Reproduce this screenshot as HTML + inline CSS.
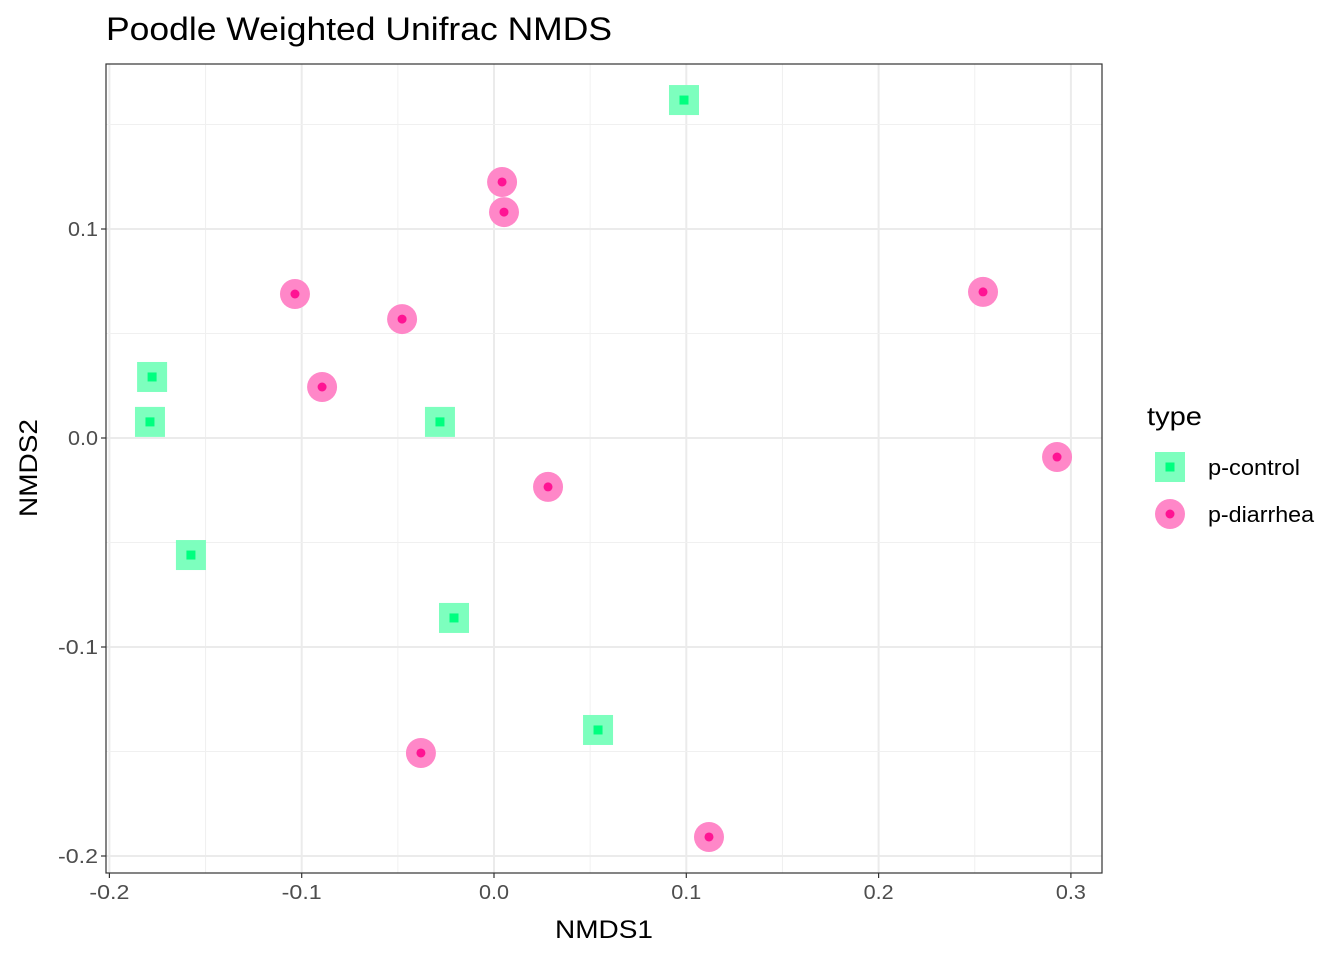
<!DOCTYPE html>
<html><head><meta charset="utf-8"><style>
body{margin:0;background:#fff;}
svg{font-family:"Liberation Sans",sans-serif;}
</style></head><body>
<svg id="c" width="1344" height="960"></svg>
<script>
const xTicks=[-0.2,-0.1,0.0,0.1,0.2,0.3];
const xTickLabels=["-0.2","-0.1","0.0","0.1","0.2","0.3"];
const yTicks=[-0.2,-0.1,0.0,0.1];
const yTickLabels=["-0.2","-0.1","0.0","0.1"];
const controlX=[0.0988,-0.1778,-0.1789,-0.0281,-0.1576,-0.0208,0.0541];
const controlY=[0.1617,0.0292,0.0077,0.0077,-0.056,-0.0861,-0.1397];
const diarrheaX=[0.0042,0.0052,-0.1035,-0.0478,-0.0894,0.2543,0.2928,0.0281,-0.0380,0.1118];
const diarrheaY=[0.1225,0.1081,0.0689,0.0569,0.0244,0.0699,-0.0091,-0.0234,-0.1507,-0.1909];

const NS="http://www.w3.org/2000/svg";
const svg=document.getElementById('c');
const L=106,R=1102,T=64,B=873;
const sx=v=>494+v*1923;
const sy=v=>438-v*2090;
function el(tag,attrs,parent){const e=document.createElementNS(NS,tag);for(const k in attrs)e.setAttribute(k,attrs[k]);(parent||svg).appendChild(e);return e;}
function txt(s,attrs,parent){const e=el('text',attrs,parent);e.textContent=s;return e;}
const tlen=s=>s.charAt(0)==='-'?40:30;

const grid=el('g',{});


for(let i=0;i<xTicks.length;i++){
  const m=xTicks[i]+0.05;
  if(sx(m)<R) el('line',{x1:sx(m),x2:sx(m),y1:T,y2:B,stroke:'#f0f0f0','stroke-width':1},grid);
  el('line',{x1:sx(xTicks[i]),x2:sx(xTicks[i]),y1:T,y2:B,stroke:'#ebebeb','stroke-width':2},grid);
}
for(let i=0;i<yTicks.length;i++){
  const m=yTicks[i]+0.05;
  el('line',{x1:L,x2:R,y1:sy(m),y2:sy(m),stroke:'#f0f0f0','stroke-width':1},grid);
  el('line',{x1:L,x2:R,y1:sy(yTicks[i]),y2:sy(yTicks[i]),stroke:'#ebebeb','stroke-width':2},grid);
}
const frame=el('rect',{x:L,y:T,width:R-L,height:B-T,fill:'none',stroke:'#333','stroke-width':1.2});



for(let i=0;i<xTicks.length;i++){
  const x=sx(xTicks[i]);
  el('line',{x1:x,x2:x,y1:B,y2:B+5,stroke:'#333','stroke-width':1.2});
  const t=txt(xTickLabels[i],{x:x,y:B+26,'text-anchor':'middle','font-size':20,fill:'#4d4d4d',textLength:tlen(xTickLabels[i]),lengthAdjust:'spacingAndGlyphs'});
  
  
}
for(let i=0;i<yTicks.length;i++){
  const y=sy(yTicks[i]);
  el('line',{x1:L-5,x2:L,y1:y,y2:y,stroke:'#333','stroke-width':1.2});
  const t=txt(yTickLabels[i],{x:L-8,y:y+7,'text-anchor':'end','font-size':20,fill:'#4d4d4d',textLength:tlen(yTickLabels[i]),lengthAdjust:'spacingAndGlyphs'});
  
  
}
let t=txt('NMDS1',{x:604,y:938,'text-anchor':'middle','font-size':25,fill:'#000',textLength:98,lengthAdjust:'spacingAndGlyphs'});


t=txt('NMDS2',{x:0,y:0,'text-anchor':'middle','font-size':25,fill:'#000',textLength:98,lengthAdjust:'spacingAndGlyphs',transform:'translate(37,468) rotate(-90)'});


t=txt('Poodle Weighted Unifrac NMDS',{x:106,y:40,'font-size':32,fill:'#000',textLength:506,lengthAdjust:'spacingAndGlyphs'});



function sq(x,y,g){
  el('rect',{x:x-15,y:y-15,width:30,height:30,fill:'rgb(125,255,190)'},g);
  el('rect',{x:x-4.5,y:y-4.5,width:9,height:9,fill:'#00ff7f'},g);
}
function ci(x,y,g){
  el('circle',{cx:x,cy:y,r:15,fill:'rgb(255,135,200)'},g);
  el('circle',{cx:x,cy:y,r:4.5,fill:'#ff1493'},g);
}
for(let i=0;i<controlX.length;i++){
  const g=el('g',{});
  
  
  sq(sx(controlX[i]),sy(controlY[i]),g);
}
for(let i=0;i<diarrheaX.length;i++){
  const g=el('g',{});
  
  
  ci(sx(diarrheaX[i]),sy(diarrheaY[i]),g);
}
t=txt('type',{x:1147,y:425,'font-size':26,fill:'#000',textLength:55,lengthAdjust:'spacingAndGlyphs'});


let g=el('g',{});


sq(1170,467,g);
txt('p-control',{x:1208,y:475,'font-size':22,fill:'#000',textLength:92,lengthAdjust:'spacingAndGlyphs'},g);
g=el('g',{});


ci(1170,514,g);
txt('p-diarrhea',{x:1208,y:522,'font-size':22,fill:'#000',textLength:106,lengthAdjust:'spacingAndGlyphs'},g);
</script>
</body></html>
